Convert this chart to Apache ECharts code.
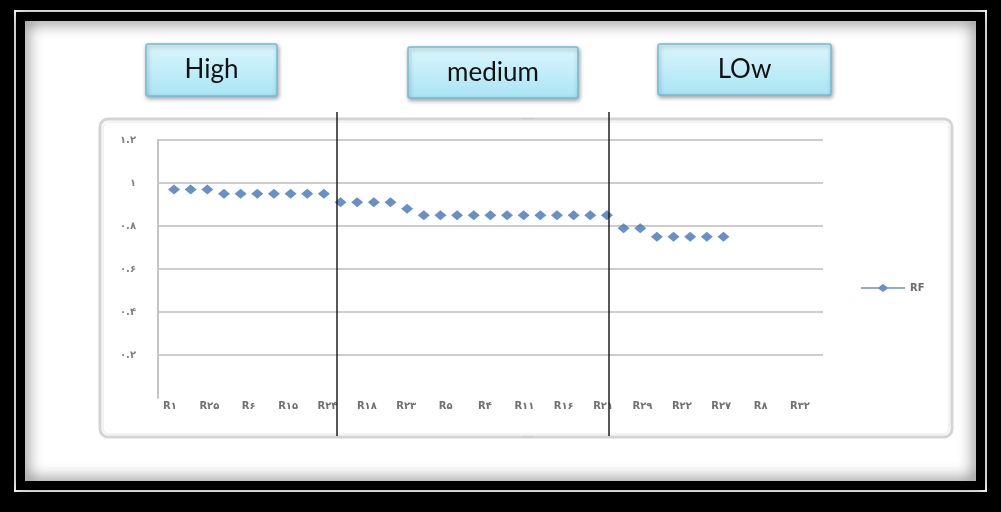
<!DOCTYPE html>
<html>
<head>
<meta charset="utf-8">
<title>RF</title>
<script src="https://cdn.jsdelivr.net/npm/echarts@6/dist/echarts.min.js"></script>
<style>
  html, body { margin: 0; padding: 0; background: #000; }
  #chart { width: 1001px; height: 512px; }
</style>
</head>
<body>
<div id="chart"></div>
<script>
// Axis labels along the bottom (every other region)
const categoryLabels = ['R۱', 'R۲۵', 'R۶', 'R۱۵', 'R۲۴', 'R۱۸', 'R۲۳', 'R۵', 'R۴',
  'R۱۱', 'R۱۶', 'R۲۱', 'R۲۹', 'R۲۲', 'R۲۷', 'R۸', 'R۳۲'];

// RF value for each region, in ranked order
const rfValues = [
  0.97, 0.97, 0.97,
  0.95, 0.95, 0.95, 0.95, 0.95, 0.95, 0.95,
  0.91, 0.91, 0.91, 0.91, 0.88,
  0.85, 0.85, 0.85, 0.85, 0.85, 0.85, 0.85, 0.85, 0.85, 0.85, 0.85, 0.85,
  0.79, 0.79,
  0.75, 0.75, 0.75, 0.75, 0.75
];

// Value axis tick labels (Persian digits), indexed by step of 0.2
const yTickLabels = ['', '۰.۲', '۰.۴', '۰.۶', '۰.۸', '۱', '۱.۲'];

// Group captions
const groupNames = ['High', 'medium', 'LOw'];

const chart = echarts.init(document.getElementById('chart'));

const pointSlots = rfValues.map((v, i) => String(i + 1));

function groupBox(name, x, y, w, h) {
  return {
    type: 'group',
    children: [
      {
        type: 'rect',
        shape: { x: x, y: y, width: w, height: h, r: 2 },
        style: {
          fill: new echarts.graphic.LinearGradient(0, 0, 0, 1, [
            { offset: 0, color: '#dcf6fd' },
            { offset: 1, color: '#a9e4f4' }
          ]),
          stroke: '#73bcd8',
          lineWidth: 1.5,
          shadowBlur: 4,
          shadowOffsetX: 1,
          shadowOffsetY: 2,
          shadowColor: 'rgba(0,0,0,0.35)'
        }
      },
      {
        type: 'text',
        style: {
          x: x + w / 2,
          y: y + h / 2,
          text: name,
          align: 'center',
          verticalAlign: 'middle',
          fill: '#111',
          font: '26px Lato, "Open Sans", sans-serif'
        }
      }
    ]
  };
}

const option = {
  backgroundColor: '#000',
  animation: false,
  graphic: [
    // page frame
    { type: 'rect', z: -10, shape: { x: 15, y: 11, width: 971, height: 480 },
      style: { fill: 'none', stroke: '#fff', lineWidth: 2 } },
    { type: 'rect', z: -9, shape: { x: 24, y: 20, width: 953, height: 462 },
      style: { fill: '#fff' } },
    { type: 'rect', z: -8, shape: { x: 22, y: 18, width: 957, height: 466 },
      style: { fill: 'none', stroke: '#000', lineWidth: 6,
        shadowBlur: 16, shadowColor: 'rgba(0,0,0,0.85)' } },
    // chart area outline
    { type: 'rect', z: -5, shape: { x: 100, y: 119, width: 852, height: 318, r: 8 },
      style: { fill: '#fff', stroke: '#d4d4d4', lineWidth: 3 } },
    { type: 'rect', z: -4, shape: { x: 103, y: 122, width: 846, height: 312, r: 6 },
      style: { fill: 'none', stroke: '#e8e8e8', lineWidth: 1 } },
    { type: 'text', style: { x: 528, y: 119, text: '····', align: 'center', verticalAlign: 'middle',
      fill: '#b0b0b0', font: '8px sans-serif' } },
    { type: 'text', style: { x: 528, y: 437, text: '····', align: 'center', verticalAlign: 'middle',
      fill: '#b0b0b0', font: '8px sans-serif' } },
    // group captions
    groupBox(groupNames[0], 146, 44, 131, 52),
    groupBox(groupNames[1], 408, 47, 170, 51),
    groupBox(groupNames[2], 658, 44, 173, 51),
    // group separators
    { type: 'line', z: 50, shape: { x1: 337, y1: 112, x2: 337, y2: 436 },
      style: { stroke: '#111', lineWidth: 1.4 } },
    { type: 'line', z: 50, shape: { x1: 609, y1: 112, x2: 609, y2: 436 },
      style: { stroke: '#111', lineWidth: 1.4 } }
  ],
  legend: {
    data: ['RF'],
    left: 856,
    top: 278,
    itemWidth: 44,
    itemHeight: 8,
    itemGap: 2,
    icon: 'path://M0,3.2 L17.5,3.2 L22,0 L26.5,3.2 L44,3.2 L44,4.8 L26.5,4.8 L22,8 L17.5,4.8 L0,4.8 Z',
    textStyle: { color: '#6b6b6b', fontSize: 10, fontWeight: 'bold', fontFamily: 'DejaVu Sans' },
    itemStyle: { color: '#4374b8' }
  },
  grid: [
    // gridlines and value axis
    { left: 158, right: 178, top: 140, bottom: 114 },
    // plotted points
    { left: 165.7, right: 269.2, top: 140, bottom: 114 },
    // bottom labels
    { left: 170, right: 201, top: 140, bottom: 114 }
  ],
  xAxis: [
    { gridIndex: 0, type: 'category', data: categoryLabels, show: false },
    { gridIndex: 1, type: 'category', data: pointSlots, boundaryGap: true, show: false },
    {
      gridIndex: 2, type: 'category', data: categoryLabels, boundaryGap: false,
      axisLine: { show: false }, axisTick: { show: false }, splitLine: { show: false },
      axisLabel: {
        interval: 0, margin: 3, color: '#707070', fontSize: 10, fontWeight: 'bold',
        fontFamily: 'DejaVu Sans'
      }
    }
  ],
  yAxis: [
    {
      gridIndex: 0, type: 'value', min: 0, max: 1.2, interval: 0.2,
      axisLine: { show: true, lineStyle: { color: '#c4c4c4', width: 2 } },
      axisTick: { show: false },
      splitLine: { show: true, showMinLine: false, lineStyle: { color: '#cdcdcd', width: 2 } },
      axisLabel: {
        margin: 22, color: '#808080', fontSize: 10, fontWeight: 'bold', fontFamily: 'DejaVu Sans',
        formatter: v => yTickLabels[Math.round(v / 0.2)]
      }
    },
    { gridIndex: 1, type: 'value', min: 0, max: 1.2, interval: 0.2, show: false },
    { gridIndex: 2, type: 'value', min: 0, max: 1.2, interval: 0.2, show: false }
  ],
  series: [
    {
      name: 'RF',
      type: 'scatter',
      xAxisIndex: 1,
      yAxisIndex: 1,
      data: rfValues,
      symbol: 'diamond',
      symbolSize: [12, 10],
      itemStyle: { color: '#4374b8' },
      z: 10
    }
  ]
};

chart.setOption(option);
</script>
</body>
</html>
